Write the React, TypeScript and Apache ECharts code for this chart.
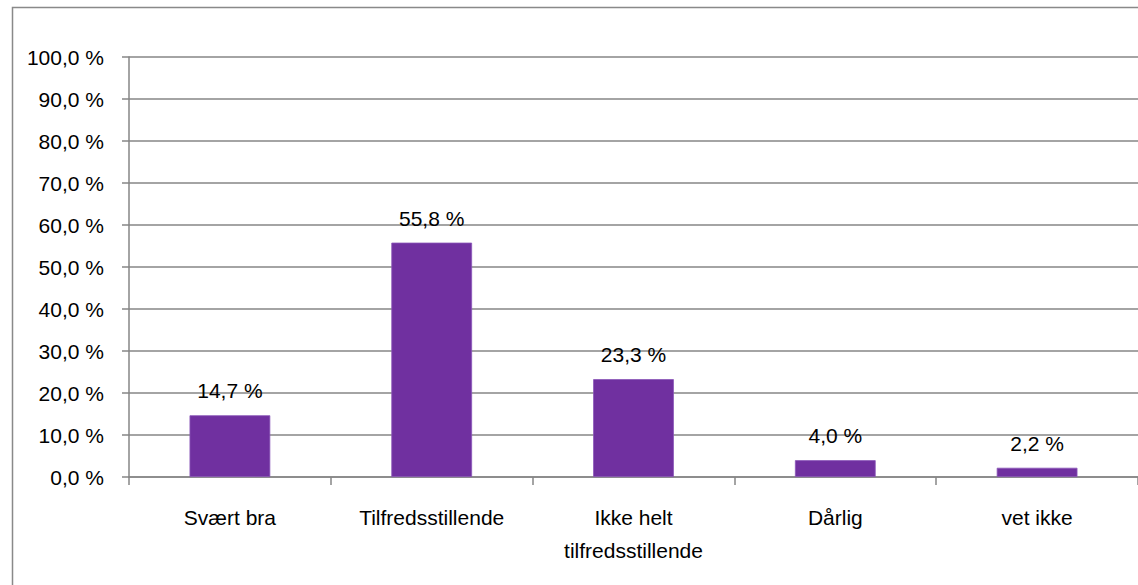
import React, { useEffect, useRef } from "react";
import * as echarts from "echarts";

const categories = ["Svært bra", "Tilfredsstillende", "Ikke helt\ntilfredsstillende", "Dårlig", "vet ikke"];
const shares = [14.7, 55.8, 23.3, 4.0, 2.2];
const axisMin = 0;
const axisMax = 100;
const axisStep = 10;

const FONT = "'Liberation Sans', Arial, sans-serif";
const pct = (v: number) => v.toFixed(1).replace(".", ",") + " %";

export default function App() {
  const ref = useRef<HTMLDivElement>(null);

  useEffect(() => {
    document.body.style.margin = "0";
    const chart = echarts.init(ref.current!, null, { renderer: "svg" });
    chart.setOption({
      animation: false,
      backgroundColor: "#ffffff",
      textStyle: { fontFamily: FONT },
      graphic: [
        {
          type: "rect",
          left: 10,
          top: 5,
          shape: { x: 0, y: 0, width: 1200, height: 700 },
          style: { fill: "none", stroke: "#898989", lineWidth: 1.5 },
          z: -1,
          silent: true,
        },
      ],
      grid: { left: 129, top: 57, bottom: 108, right: -8, containLabel: false },
      xAxis: {
        type: "category",
        data: categories,
        axisLine: { lineStyle: { color: "#868686", width: 1.5 } },
        axisTick: { show: true, length: 8, lineStyle: { color: "#868686", width: 1.5 } },
        axisLabel: {
          color: "#000000",
          fontSize: 21,
          fontFamily: FONT,
          margin: 24,
          lineHeight: 33,
          interval: 0,
        },
      },
      yAxis: {
        type: "value",
        min: axisMin,
        max: axisMax,
        interval: axisStep,
        axisLine: { show: true, lineStyle: { color: "#868686", width: 1.5 } },
        axisTick: { show: true, length: 7, lineStyle: { color: "#868686", width: 1.5 } },
        splitLine: { show: true, lineStyle: { color: "#868686", width: 1.5 } },
        axisLabel: {
          color: "#000000",
          fontSize: 21,
          fontFamily: FONT,
          margin: 25,
          formatter: (v: number) => pct(v),
        },
      },
      series: [
        {
          type: "bar",
          data: shares,
          barCategoryGap: "60%",
          itemStyle: { color: "#7030A0", borderColor: "#8a55b8", borderWidth: 0.8 },
          label: {
            show: true,
            position: "top",
            distance: 14,
            color: "#000000",
            fontSize: 21,
            fontFamily: FONT,
            formatter: (p: any) => pct(p.value),
          },
        },
      ],
    });
    return () => chart.dispose();
  }, []);

  return <div ref={ref} style={{ width: 1138, height: 585 }} />;
}
